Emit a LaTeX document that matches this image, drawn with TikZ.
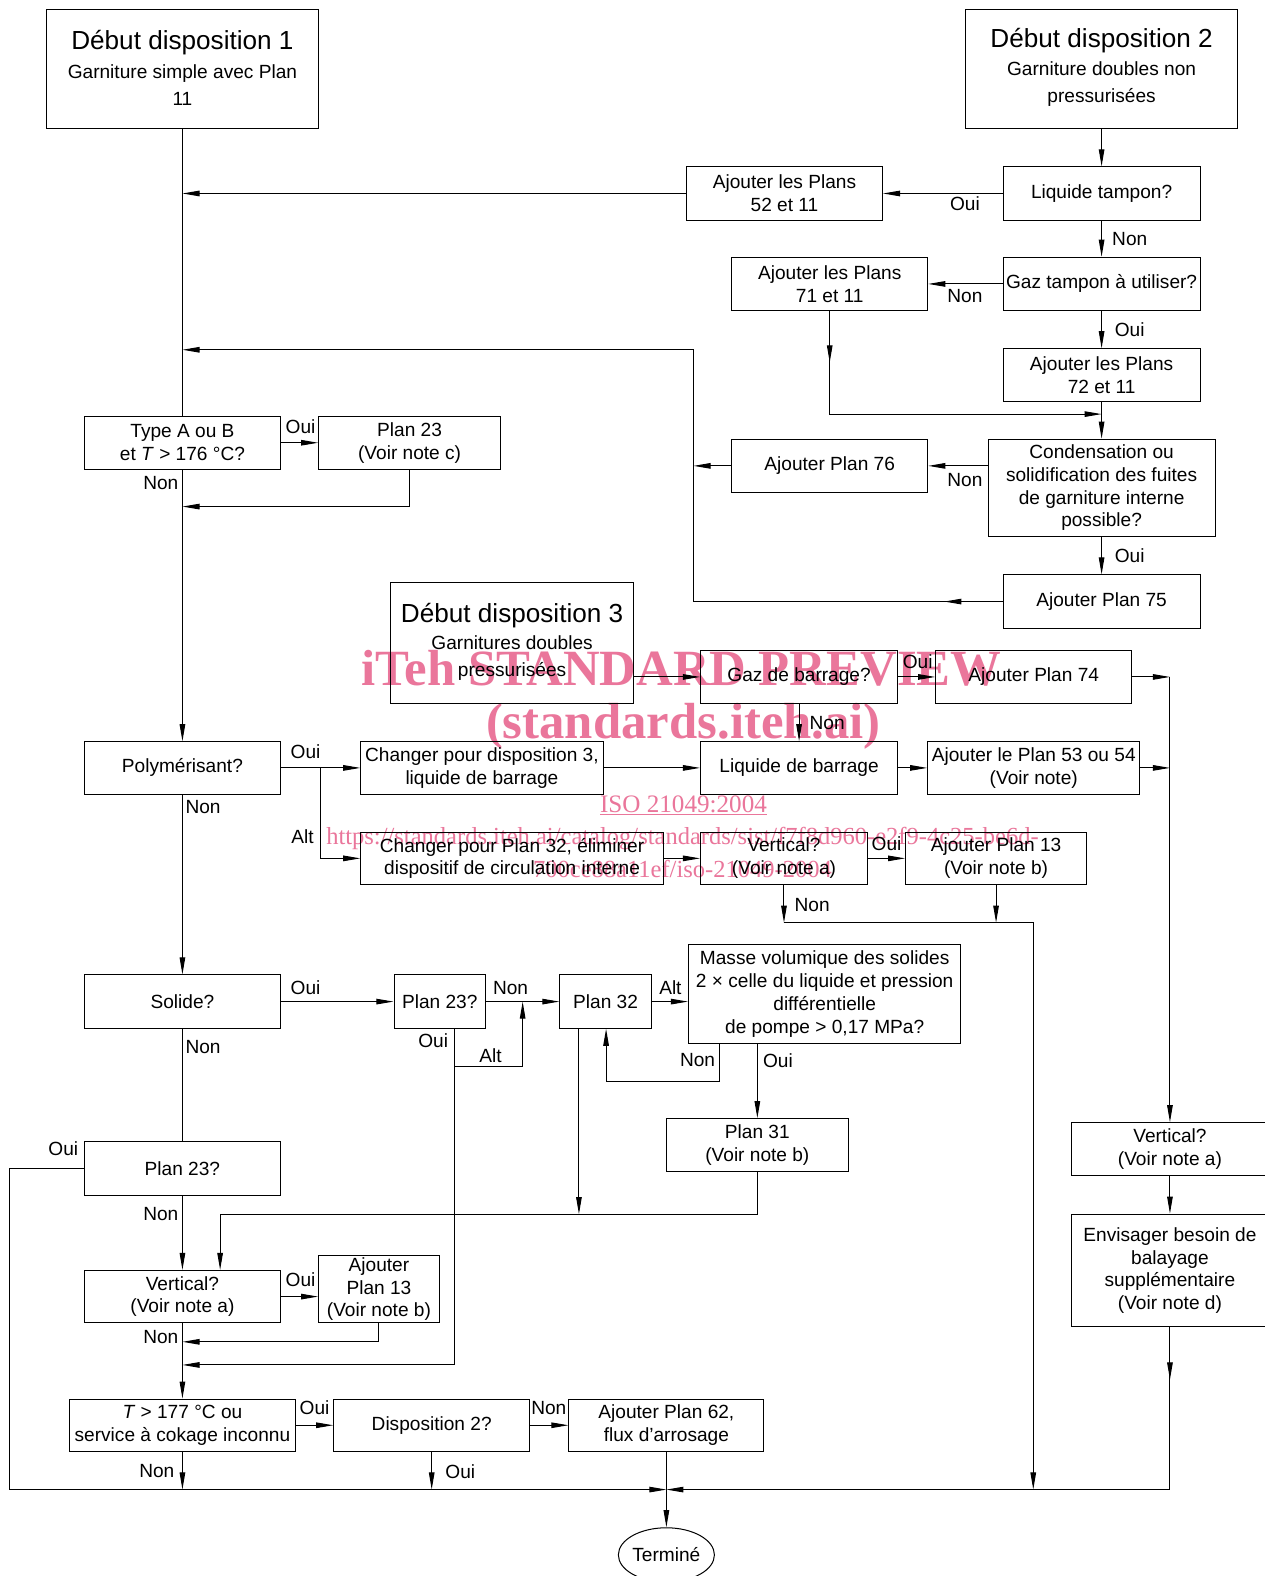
\documentclass[tikz,border=0pt]{standalone}
\usepackage{fontspec}
\setmainfont{Liberation Sans}
\newfontfamily\wmfont{Liberation Serif}
\usetikzlibrary{arrows.meta,shapes.geometric}
\newcommand\fb{\fontsize{19}{22.6}\selectfont}
\newcommand\ftl{\fontsize{26}{30}\selectfont}
\newcommand\fsub{\fontsize{19}{27}\selectfont}
\definecolor{wmpink}{RGB}{234,118,155}
\tikzset{
  box/.style={draw, line width=1pt, inner sep=0pt, align=center, font=\fb},
  lbl/.style={inner sep=0pt, font=\fb},
  ttl/.style={inner sep=0pt, font=\ftl},
  sub/.style={inner sep=0pt, align=center, font=\fsub},
  wmbig/.style={inner sep=0pt, text=wmpink, font=\wmfont\bfseries\fontsize{50.5}{54}\selectfont},
  wmsmall/.style={inner sep=0pt, text=wmpink, font=\wmfont\fontsize{25}{28}\selectfont},
  wmurl/.style={inner sep=0pt, text=wmpink, font=\wmfont\fontsize{24.4}{28}\selectfont},
}
\begin{document}
\begin{tikzpicture}[x=1pt,y=-1pt,line width=1pt,>={Triangle[length=17pt,width=5.5pt]}]
\fill[white] (0,0) rectangle (1258,1568);
\useasboundingbox (0,0) rectangle (1258,1568);
% watermark
\node[wmbig] (wm1) at (678,665) {iTeh STANDARD PREVIEW};
\node[wmbig] (wm2) at (680,723) {(standards.iteh.ai)};
\node[wmsmall] (wm3) at (680,801) {\underline{ISO 21049:2004}};
\node[wmurl] (wm4) at (679,834) {https://standards.iteh.ai/catalog/standards/sist/f7f8d960-e2f9-4c25-be6d-};
\node[wmurl] (wm5) at (679,865) {700ce88a11ef/iso-21049-2004};
% start boxes
\node[box, minimum width=271pt, minimum height=119pt] (s1) at (181.5,68.5) {};
\node[ttl] (s1t) at (181.5,42) {Début disposition 1};
\node[sub] (s1s) at (181.5,85) {Garniture simple avec Plan\\11};
\node[box, minimum width=270pt, minimum height=119pt] (s2) at (1096,68.5) {};
\node[ttl] (s2t) at (1096,40) {Début disposition 2};
\node[sub] (s2s) at (1096,84) {Garniture doubles non\\pressurisées};
\node[box, minimum width=241pt, minimum height=120pt] (s3) at (509.5,640) {};
\node[ttl] (s3t) at (509.5,612) {Début disposition 3};
\node[sub] (s3s) at (509.5,655) {Garnitures doubles\\pressurisées};
% boxes
\node[box, minimum width=195pt, minimum height=53pt] (a52) at (780.5,192.5) {Ajouter les Plans\\52 et 11};
\node[box, minimum width=196pt, minimum height=53pt] (lt) at (1096,192.5) {Liquide tampon?};
\node[box, minimum width=195pt, minimum height=53pt] (a71) at (825.5,282.5) {Ajouter les Plans\\71 et 11};
\node[box, minimum width=196pt, minimum height=53pt] (gt) at (1096,282.5) {Gaz tampon à utiliser?};
\node[box, minimum width=196pt, minimum height=52pt] (a72) at (1096,373) {Ajouter les Plans\\72 et 11};
\node[box, minimum width=195pt, minimum height=53pt] (ta) at (181.5,440.5) {Type A ou B\\et \textit{T} > 176 °C?};
\node[box, minimum width=181pt, minimum height=53pt] (p23c) at (407.5,440.5) {Plan 23\\(Voir note c)};
\node[box, minimum width=195pt, minimum height=53pt] (a76) at (825.5,463.5) {Ajouter Plan 76};
\node[box, minimum width=226pt, minimum height=97pt] (cond) at (1096,485.5) {Condensation ou\\solidification des fuites\\de garniture interne\\possible?};
\node[box, minimum width=196pt, minimum height=53pt] (a75) at (1096,598.5) {Ajouter Plan 75};
\node[box, minimum width=196pt, minimum height=53pt] (gb) at (795,673.5) {Gaz de barrage?};
\node[box, minimum width=195pt, minimum height=53pt] (a74) at (1028.5,673.5) {Ajouter Plan 74};
\node[box, minimum width=195pt, minimum height=52pt] (poly) at (181.5,764) {Polymérisant?};
\node[box, minimum width=241pt, minimum height=52pt] (cd3) at (479.5,764) {Changer pour disposition 3,\\liquide de barrage};
\node[box, minimum width=196pt, minimum height=52pt] (lb) at (795,764) {Liquide de barrage};
\node[box, minimum width=211pt, minimum height=52pt] (a53) at (1028.5,764) {Ajouter le Plan 53 ou 54\\(Voir note)};
\node[box, minimum width=301pt, minimum height=52pt] (cp32) at (509.5,854) {Changer pour Plan 32, éliminer\\dispositif de circulation interne};
\node[box, minimum width=166pt, minimum height=52pt] (v1) at (780,854) {Vertical?\\(Voir note a)};
\node[box, minimum width=180pt, minimum height=52pt] (a13a) at (991,854) {Ajouter Plan 13\\(Voir note b)};
\node[box, minimum width=195pt, minimum height=53pt] (sol) at (181.5,996.5) {Solide?};
\node[box, minimum width=91pt, minimum height=53pt] (p23b) at (437.5,996.5) {Plan 23?};
\node[box, minimum width=91pt, minimum height=53pt] (p32) at (602.5,996.5) {Plan 32};
\node[box, minimum width=271pt, minimum height=98pt] (mv) at (820.5,989) {Masse volumique des solides\\2 × celle du liquide et pression\\différentielle\\de pompe > 0,17 MPa?};
\node[box, minimum width=181pt, minimum height=53pt] (p31) at (753.5,1139.5) {Plan 31\\(Voir note b)};
\node[box, minimum width=196pt, minimum height=53pt] (v2) at (1164,1143.5) {Vertical?\\(Voir note a)};
\node[box, minimum width=196pt, minimum height=112pt] (env) at (1164,1264) {Envisager besoin de\\balayage\\supplémentaire\\(Voir note d)};
\node[box, minimum width=195pt, minimum height=53pt] (p23l) at (181.5,1162.5) {Plan 23?};
\node[box, minimum width=195pt, minimum height=52pt] (v3) at (181.5,1290) {Vertical?\\(Voir note a)};
\node[box, minimum width=120pt, minimum height=67pt] (a13b) at (377,1282.5) {Ajouter\\Plan 13\\(Voir note b)};
\node[box, minimum width=225pt, minimum height=52pt] (t177) at (181.5,1418) {\textit{T} > 177 °C ou\\service à cokage inconnu};
\node[box, minimum width=195pt, minimum height=52pt] (d2) at (429.5,1418) {Disposition 2?};
\node[box, minimum width=194pt, minimum height=52pt] (a62) at (663,1418) {Ajouter Plan 62,\\flux d'arrosage};
\node[draw, ellipse, minimum width=90pt, minimum height=54pt, inner sep=0pt, font=\fb] (term) at (663,1547) {Terminé};
% helper coordinates
\coordinate (j72) at (1096,412);
\coordinate (c690t) at (690,348);
\coordinate (c690b) at (690,598.5);
\coordinate (j23) at (407.5,504);
\coordinate (alt1) at (319,764);
\coordinate (j918a) at (780,918);
\coordinate (j918b) at (1028,918);
\coordinate (bot1028) at (1028,1482);
\coordinate (p23bo) at (452,1023);
\coordinate (p23bj) at (452,1358);
\coordinate (altj) at (452,1061);
\coordinate (altk) at (520,1061);
\coordinate (mvn) at (716,1038);
\coordinate (mvn2) at (716,1076);
\coordinate (mvn3) at (603,1076);
\coordinate (p32d) at (576,1023);
\coordinate (p32e) at (576,1208);
\coordinate (j1208) at (219,1208);
\coordinate (lft) at (9,1162.5);
\coordinate (lftb) at (9,1482);
\coordinate (bj) at (663,1482);
\coordinate (j1335) at (377,1335);
\coordinate (rb) at (1164,1482);
% connectors
\draw (s1.south) -- (ta.north);
\draw[->] (ta.south) -- (poly.north);
\draw[->] (a52.west) -- (a52.west -| s1.south);
\draw[->] (lt.west) -- (a52.east);
\draw[->] (s2.south) -- (lt.north);
\draw[->] (lt.south) -- (gt.north);
\draw[->] (gt.west) -- (a71.east);
\draw[->] (gt.south) -- (a72.north);
\draw[->] (a71.south) -- (a71.south |- j72) -- (j72);
\draw[->] (a71.south) -- ++(0,51);
\draw[->] (a72.south) -- (cond.north);
\draw[->] (cond.west |- a76.east) -- (a76.east);
\draw[->] (a76.west) -- (a76.west -| c690t);
\draw (a75.west) -- (c690b) -- (c690t);
\draw[->] (a75.west) -- ++(-58,0);
\draw[->] (c690t) -- (c690t -| s1.south);
\draw[->] (cond.south) -- (a75.north);
\draw[->] (ta.east) -- (p23c.west);
\draw[->] (p23c.south) -- (j23) -- (j23 -| ta.south);
\draw[->] (s3.east |- gb.west) -- (gb.west);
\draw[->] (gb.east) -- (a74.west);
\draw[->] (gb.south) -- (lb.north);
\draw[->] (a74.east) -- (a74.east -| v2.north);
\draw[->] (a74.east -| v2.north) -- (v2.north);
\draw[->] (a53.east) -- (a53.east -| v2.north);
\draw[->] (lb.east) -- (a53.west);
\draw[->] (cd3.east) -- (lb.west);
\draw[->] (poly.east) -- (cd3.west);
\draw[->] (alt1) -- (alt1 |- cp32.west) -- (cp32.west);
\draw[->] (poly.south) -- (sol.north);
\draw[->] (cp32.east) -- (v1.west);
\draw[->] (v1.east) -- (a13a.west);
\draw[->] (v1.south) -- (j918a);
\draw[->] (a13a.south) -- (a13a.south |- j918a);
\draw[->] (j918a) -- (j918b) -- (bot1028);
\draw[->] (sol.east) -- (p23b.west);
\draw[->] (p23b.east) -- (p32.west);
\draw[->] (p32.east) -- (mv.west |- p32.east);
\draw[->] (p23bo) -- (p23bj) -- (p23bj -| v3.south);
\draw[->] (altj) -- (altk) -- (altk |- p23b.east);
\draw[->] (mvn) -- (mvn2) -- (mvn3) -- (mvn3 |- p32.south);
\draw[->] (mv.south -| p31.north) -- (p31.north);
\draw[->] (p32d) -- (p32e);
\draw[->] (p31.south) -- (p31.south |- j1208) -- (j1208) -- (j1208 |- v3.north);
\draw (sol.south) -- (p23l.north);
\draw[->] (p23l.west) -- (lft) -- (lftb) -- (bj);
\draw[->] (p23l.south) -- (v3.north);
\draw[->] (v3.east) -- (v3.east -| a13b.west);
\draw[->] (a13b.south) -- (j1335) -- (j1335 -| v3.south);
\draw[->] (v3.south) -- (t177.north);
\draw[->] (t177.east) -- (d2.west);
\draw[->] (d2.east) -- (a62.west);
\draw[->] (t177.south) -- (t177.south |- bj);
\draw[->] (d2.south) -- (d2.south |- bj);
\draw[->] (a62.south) -- (term.north);
\draw[->] (v2.south) -- (env.north);
\draw[->] (env.south) -- (rb) -- (bj);
\draw[->] (env.south) -- ++(0,52);
% labels
\node[lbl] (l1) at (960,203) {Oui};
\node[lbl] (l2) at (1124,238) {Non};
\node[lbl] (l3) at (960,295) {Non};
\node[lbl] (l4) at (1124,328) {Oui};
\node[lbl] (l5) at (299,425) {Oui};
\node[lbl] (l6) at (160,481) {Non};
\node[lbl] (l7) at (960,478) {Non};
\node[lbl] (l8) at (1124,553) {Oui};
\node[lbl] (l9) at (913,658) {Oui};
\node[lbl] (l10) at (823,719) {Non};
\node[lbl] (l11) at (304,748) {Oui};
\node[lbl] (l12) at (301,832) {Alt};
\node[lbl] (l13) at (202,803) {Non};
\node[lbl] (l14) at (882,839) {Oui};
\node[lbl] (l15) at (808,900) {Non};
\node[lbl] (l16) at (304,983) {Oui};
\node[lbl] (l17) at (508,983) {Non};
\node[lbl] (l18) at (667,983) {Alt};
\node[lbl] (l19) at (431,1035) {Oui};
\node[lbl] (l20) at (488,1050) {Alt};
\node[lbl] (l21) at (694,1055) {Non};
\node[lbl] (l22) at (774,1055) {Oui};
\node[lbl] (l23) at (202,1042) {Non};
\node[lbl] (l24) at (63,1143) {Oui};
\node[lbl] (l25) at (160,1208) {Non};
\node[lbl] (l26) at (299,1273) {Oui};
\node[lbl] (l27) at (160,1330) {Non};
\node[lbl] (l28) at (313,1401) {Oui};
\node[lbl] (l29) at (546,1401) {Non};
\node[lbl] (l30) at (156,1464) {Non};
\node[lbl] (l31) at (458,1464) {Oui};
\end{tikzpicture}
\end{document}
